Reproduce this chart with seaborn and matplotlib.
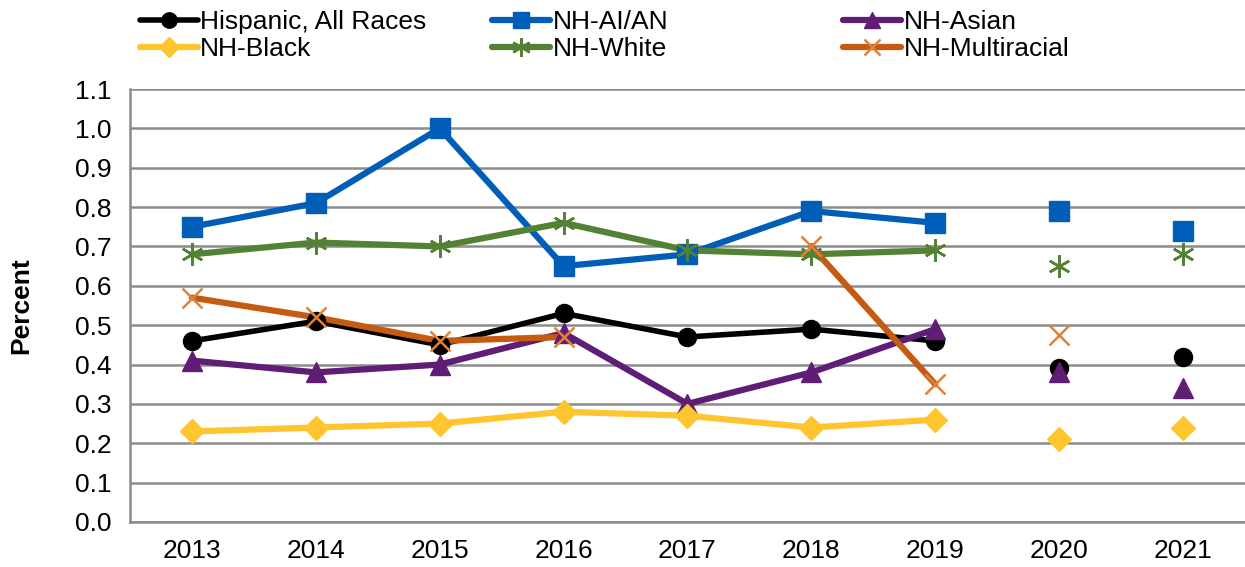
import numpy as np
import pandas as pd
import matplotlib
matplotlib.use("Agg")
import matplotlib.pyplot as plt
from matplotlib.lines import Line2D
import seaborn as sns

years = ["2013", "2014", "2015", "2016", "2017", "2018", "2019", "2020", "2021"]

hispanic = [0.46, 0.51, 0.45, 0.53, 0.47, 0.49, 0.46, 0.39, 0.42]
nh_aian = [0.75, 0.81, 1.00, 0.65, 0.68, 0.79, 0.76, 0.79, 0.74]
nh_asian = [0.41, 0.38, 0.40, 0.48, 0.30, 0.38, 0.49, 0.38, 0.34]
nh_black = [0.23, 0.24, 0.25, 0.28, 0.27, 0.24, 0.26, 0.21, 0.24]
nh_white = [0.68, 0.71, 0.70, 0.76, 0.69, 0.68, 0.69, 0.65, 0.68]
nh_multi = [0.57, 0.52, 0.46, 0.47, np.nan, 0.70, 0.35, 0.475, np.nan]

series_names = ["Hispanic, All Races", "NH-AI/AN", "NH-Asian",
                "NH-Black", "NH-White", "NH-Multiracial"]
series_values = [hispanic, nh_aian, nh_asian, nh_black, nh_white, nh_multi]

# index of the last year joined by a line; later years are shown as points only
line_end = 6

styles = {
    "Hispanic, All Races": dict(color="#000000", mcolor="#000000", marker="o", ms=13, lw=4.0, mew=1),
    "NH-AI/AN": dict(color="#005EB8", mcolor="#005EB8", marker="s", ms=14, lw=4.5, mew=1),
    "NH-Asian": dict(color="#5F1D75", mcolor="#5F1D75", marker="^", ms=14, lw=4.5, mew=1),
    "NH-Black": dict(color="#FFC52F", mcolor="#FFC52F", marker="D", ms=12, lw=4.5, mew=1),
    "NH-White": dict(color="#548235", mcolor="#548235", marker=(6, 2, 0), ms=16, lw=4.5, mew=1.8),
    "NH-Multiracial": dict(color="#C55A11", mcolor="#E0823A", marker="x", ms=14, lw=4.5, mew=1.8),
}

rows = []
for name, vals in zip(series_names, series_values):
    seg = 0
    for i, (yr, v) in enumerate(zip(years, vals)):
        if np.isnan(v) or i > line_end:
            seg += 1
        if not np.isnan(v):
            rows.append(dict(series=name, pos=i, year=yr, value=v, segment=f"{name}-{seg}"))
        if i >= line_end:
            seg += 1
df = pd.DataFrame(rows)

sns.set_theme(style="white")
plt.rcParams["font.family"] = ["Liberation Sans", "DejaVu Sans"]
plt.rcParams["text.color"] = "black"
plt.rcParams["axes.labelcolor"] = "black"
plt.rcParams["xtick.labelcolor"] = "black"
plt.rcParams["ytick.labelcolor"] = "black"

FS = 19

fig = plt.figure(figsize=(12.45, 5.67), dpi=100)
ax = fig.add_axes([0.1044, 0.0794, 0.8956, 0.7636])

for name in series_names:
    st = styles[name]
    sub = df[df.series == name]
    for segname, seg in sub.groupby("segment", sort=False):
        if len(seg) > 1:
            sns.lineplot(data=seg, x="pos", y="value", ax=ax, color=st["color"],
                         lw=st["lw"], estimator=None, sort=False, legend=False, zorder=3)
    ax.plot(sub["pos"], sub["value"], linestyle="none", marker=st["marker"],
            markersize=st["ms"], color=st["mcolor"], markeredgecolor=st["mcolor"],
            markeredgewidth=st["mew"], zorder=4)

ax.set_xlim(-0.5, len(years) - 0.5)
ax.set_ylim(0, 1.1)
ax.set_yticks(np.arange(0, 1.11, 0.1))
ax.set_yticklabels([f"{v:.1f}" for v in np.arange(0, 1.11, 0.1)], fontsize=FS)
ax.set_xticks(np.arange(-0.5, len(years), 1.0))
ax.set_xticklabels([])
ax.set_xticks(np.arange(len(years)), minor=True)
ax.set_xticklabels(years, minor=True, fontsize=FS)
ax.tick_params(axis="x", which="major", length=9, width=1.5, color="#8C8C8C", direction="out")
ax.tick_params(axis="x", which="minor", length=0, pad=12)
ax.tick_params(axis="y", length=9, width=1.5, color="#8C8C8C", direction="out", pad=4)
ax.yaxis.grid(True, color="#8C8C8C", lw=1.8)
ax.set_axisbelow(True)
for s in ["top", "right"]:
    ax.spines[s].set_visible(False)
for s in ["left", "bottom"]:
    ax.spines[s].set_color("#8C8C8C")
    ax.spines[s].set_linewidth(1.8)
ax.set_xlabel("")
ax.set_ylabel("Percent", fontsize=FS, fontweight="bold", labelpad=30)

# legend laid out in three fixed-width columns, two rows each
col_x = [0.110, 0.393, 0.675]
for c in range(3):
    handles = []
    labels = []
    for r in range(2):
        name = series_names[r * 3 + c]
        st = styles[name]
        handles.append(Line2D([0], [0], color=st["color"], lw=st["lw"], marker=st["marker"],
                              markersize=st["ms"] * 0.85, markerfacecolor=st["mcolor"],
                              markeredgecolor=st["mcolor"], markeredgewidth=st["mew"]))
        labels.append(name)
    fig.legend(handles, labels, loc="upper left", bbox_to_anchor=(col_x[c], 0.987),
               frameon=False, fontsize=FS, handlelength=2.2, handletextpad=0.1,
               labelspacing=0.12, borderaxespad=0, borderpad=0.1)

fig.savefig("out.png", dpi=100)
